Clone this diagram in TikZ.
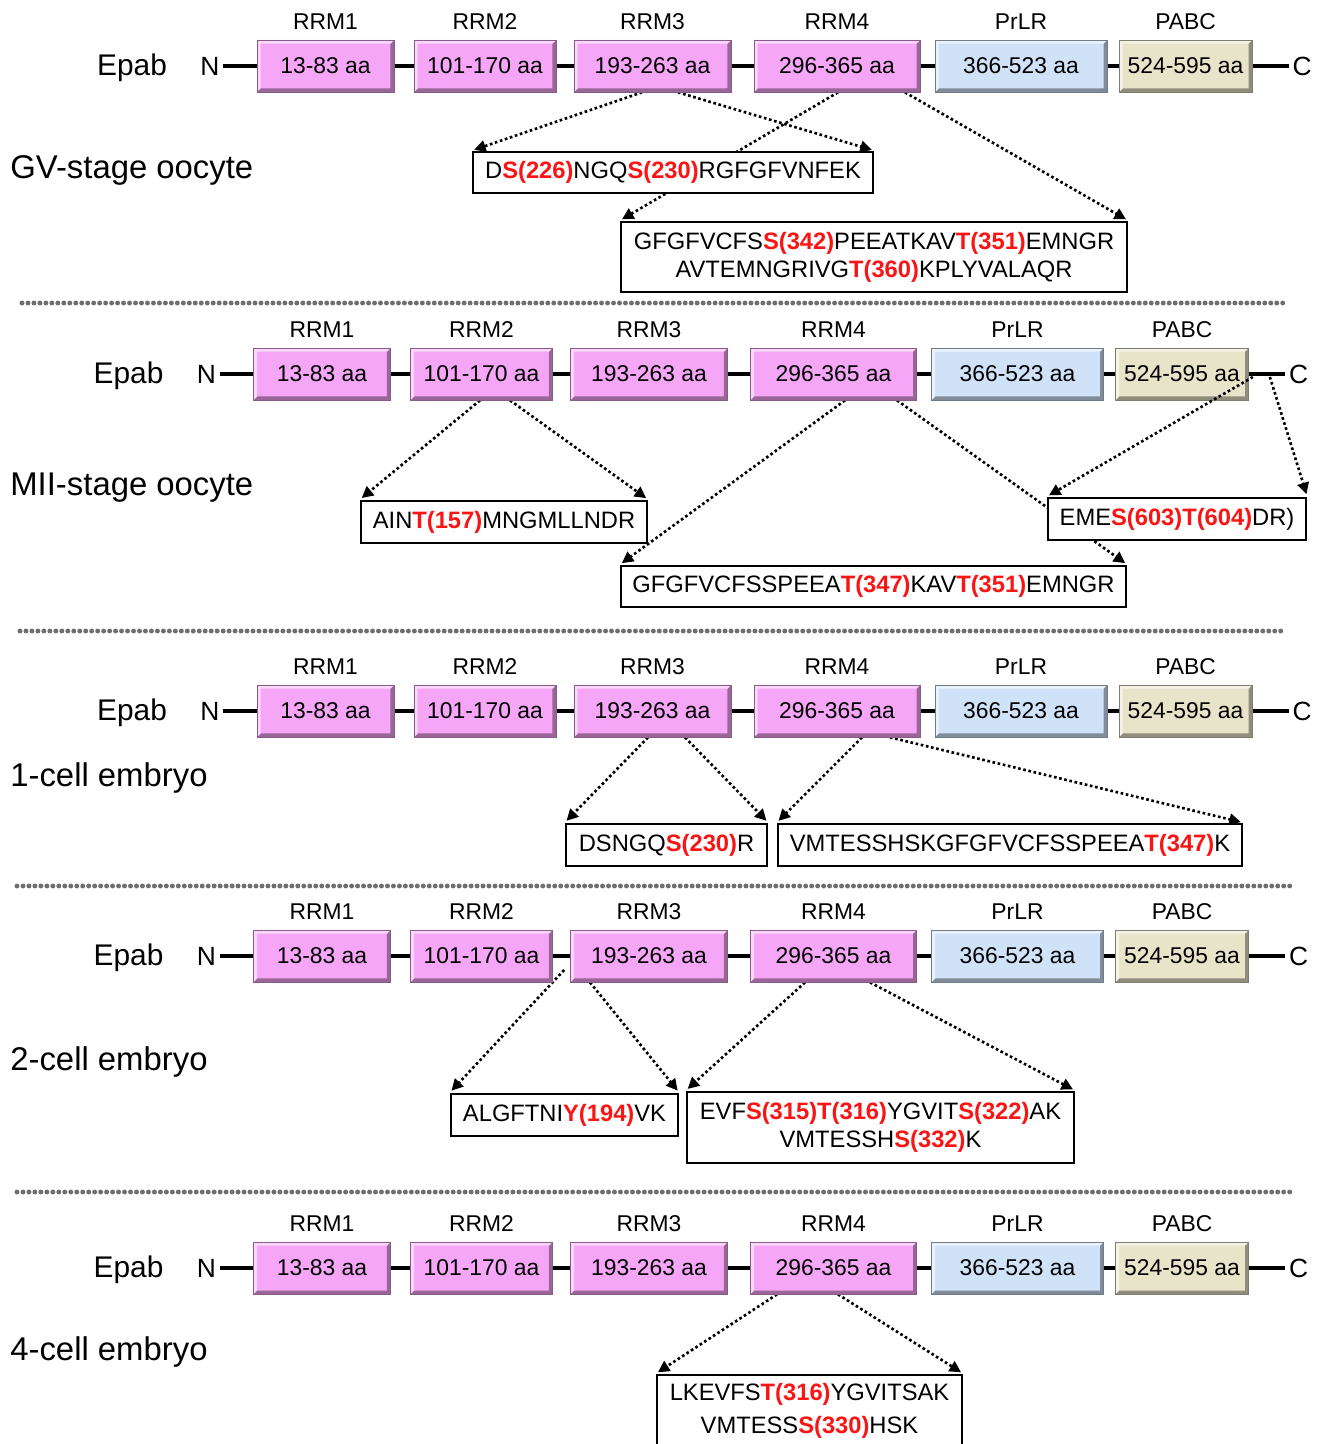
\documentclass[tikz,border=0pt]{standalone}
\usepackage{fontspec}
\setmainfont{Liberation Sans}
\usepackage{xcolor}
\usepackage{tikz}
\usetikzlibrary{arrows.meta,backgrounds}

\definecolor{rrmpink}{RGB}{246,166,246}
\definecolor{prlrblue}{RGB}{208,226,248}
\definecolor{pabctan}{RGB}{232,228,202}
\definecolor{phosred}{RGB}{250,20,20}
\definecolor{sepgray}{RGB}{110,110,110}

\newcommand{\domfont}{\fontsize{13}{15}\selectfont}
\newcommand{\epabfont}{\fontsize{17}{20}\selectfont}
\newcommand{\termfont}{\fontsize{15}{18}\selectfont}
\newcommand{\stagefont}{\fontsize{18.7}{22}\selectfont}
\newcommand{\pepfont}{\fontsize{13.5}{16}\selectfont}
\newcommand{\phos}[1]{\textcolor{phosred}{\textbf{#1}}}

\tikzset{
  domainbox/.style={draw=#1!55!black, line width=0.4pt, fill=#1,
    minimum height=1.04cm, inner sep=0pt, font=\domfont,
    path picture={
      \coordinate (o1) at (path picture bounding box.south west);
      \coordinate (o3) at (path picture bounding box.north east);
      \coordinate (i1) at ([shift={(2pt,2pt)}]o1);
      \coordinate (i3) at ([shift={(-2pt,-2pt)}]o3);
      \fill[#1!62!black] (o1) -- (o1 -| o3) -- (o3) -- (i3) -- (i1 -| i3) -- (i1) -- cycle;
      \fill[#1!45!white] (o1) -- (o1 |- o3) -- (o3) -- (i3) -- (i3 -| i1) -- (i1) -- cycle;
    }},
  domlabel/.style={anchor=south, inner sep=0pt, font=\domfont},
  backbone/.style={line width=2.6pt},
  peptide/.style={draw, line width=1.5pt, fill=white, font=\pepfont, align=center, inner sep=0pt},
  stagelabel/.style={anchor=west, inner sep=0pt, font=\stagefont},
  dotarrow/.style={line width=1.5pt, dash pattern=on 1.5pt off 1.5pt,
    -{Triangle[length=2.3mm,width=2.3mm]}, shorten >=1.5pt},
  sepline/.style={sepgray, line width=2.8pt, line cap=round, dash pattern=on 0pt off 3.4pt}
}

% one Epab domain row: #1 name, #2 y of the backbone, #3 x shift
\newcommand{\epabrow}[3]{%
  \begin{scope}[shift={(#3,#2)}]
    \node[font=\epabfont] (#1-epab) at (132,2) {Epab};
    \node[font=\termfont, inner sep=2pt] (#1-n) at (210,0) {N};
    \node[font=\termfont, inner sep=2pt] (#1-c) at (1302,0) {C};
    \draw[backbone] (#1-n) -- (#1-c);
    \node[domainbox=rrmpink, minimum width=2.74cm] (#1-rrm1) at (325.5,0) {13-83 aa};
    \node[domainbox=rrmpink, minimum width=2.84cm] (#1-rrm2) at (485,0) {101-170 aa};
    \node[domainbox=rrmpink, minimum width=3.14cm] (#1-rrm3) at (652.5,0) {193-263 aa};
    \node[domainbox=rrmpink, minimum width=3.32cm] (#1-rrm4) at (837,0) {296-365 aa};
    \node[domainbox=prlrblue, minimum width=3.44cm] (#1-prlr) at (1021,0) {366-523 aa};
    \node[domainbox=pabctan, minimum width=2.66cm] (#1-pabc) at (1185.5,0) {524-595 aa};
    \foreach \d/\t in {rrm1/RRM1, rrm2/RRM2, rrm3/RRM3, rrm4/RRM4, prlr/PrLR, pabc/PABC}
      \node[domlabel] (#1-\d-lab) at ([yshift=2mm]#1-\d.north) {\t};
  \end{scope}
}

\begin{document}
\begin{tikzpicture}[x=0.2mm, y=-0.2mm]

    \useasboundingbox (0,0) rectangle (1323,1444);

    % Domain rows
    \epabrow{gv}{66}{0}
    \epabrow{mii}{374}{-3.5}
    \epabrow{c1}{711}{0}
    \epabrow{c2}{956}{-3.5}
    \epabrow{c4}{1268}{-3.5}

    % Stage labels
    \node[stagelabel] (gv-stage) at (10,170) {GV-stage oocyte};
    \node[stagelabel] (mii-stage) at (10,488) {MII-stage oocyte};
    \node[stagelabel] (c1-stage) at (10,778) {1-cell embryo};
    \node[stagelabel] (c2-stage) at (10,1062) {2-cell embryo};
    \node[stagelabel] (c4-stage) at (10,1352) {4-cell embryo};

    % Separators
    \draw[sepline] (22,303) -- (1287,303);
    \draw[sepline] (20,631) -- (1283,631);
    \draw[sepline] (17,886) -- (1293,886);
    \draw[sepline] (17,1192) -- (1295,1192);

    % Phosphopeptides
    \node[peptide, minimum width=8cm, minimum height=0.82cm] (gv-pepa) at (673,172.5)
        {D\phos{S(226)}NGQ\phos{S(230)}RGFGFVNFEK};
    \node[peptide, minimum width=10.12cm, minimum height=1.4cm] (gv-pepb) at (874,257)
        {GFGFVCFS\phos{S(342)}PEEATKAV\phos{T(351)}EMNGR\\AVTEMNGRIVG\phos{T(360)}KPLYVALAQR};
    \node[peptide, minimum width=5.72cm, minimum height=0.84cm] (mii-aint) at (504,522)
        {AIN\phos{T(157)}MNGMLLNDR};
    \node[peptide, minimum width=5.16cm, minimum height=0.84cm] (mii-emes) at (1177,519)
        {EME\phos{S(603)T(604)}DR)};
    \node[peptide, minimum width=10.1cm, minimum height=0.82cm] (mii-gfgf) at (873.5,586.5)
        {GFGFVCFSSPEEA\phos{T(347)}KAV\phos{T(351)}EMNGR};
    \node[peptide, minimum width=4.02cm, minimum height=0.84cm] (c1-dsng) at (666.5,845)
        {DSNGQ\phos{S(230)}R};
    \node[peptide, minimum width=9.28cm, minimum height=0.84cm] (c1-vmte) at (1010,845)
        {VMTESSHSKGFGFVCFSSPEEA\phos{T(347)}K};
    \node[peptide, minimum width=4.54cm, minimum height=0.84cm] (c2-algf) at (564.5,1115)
        {ALGFTNI\phos{Y(194)}VK};
    \node[peptide, minimum width=7.74cm, minimum height=1.42cm] (c2-evfs) at (880.5,1127.5)
        {EVF\phos{S(315)T(316)}YGVIT\phos{S(322)}AK\\VMTESSH\phos{S(332)}K};
    \node[peptide, minimum width=6.1cm, minimum height=1.44cm] (c4-lkev) at (809.5,1411)
        {LKEVFS\phos{T(316)}YGVITSAK\\[3pt]VMTESS\phos{S(330)}HSK};

    % Arrows from the C-terminal tail, drawn over the PABC box
    \draw[dotarrow] ([xshift=0.08cm,yshift=-0.06cm]mii-pabc.east) -- (mii-emes.north west);
    \draw[dotarrow] ([xshift=0.42cm,yshift=-0.06cm]mii-pabc.east) -- (mii-emes.north east);

    % Dotted arrows from domains to peptides (behind the boxes)
    \begin{pgfonlayer}{background}
        \fill[white] (0,0) rectangle (1323,1444);
        \draw[dotarrow] ([xshift=-0.21cm]gv-rrm3.south) -- (gv-pepa.north west);
        \draw[dotarrow] ([xshift=0.51cm]gv-rrm3.south) -- (gv-pepa.north east);
        \draw[dotarrow] ([xshift=0.02cm]gv-rrm4.south) -- (gv-pepb.north west);
        \draw[dotarrow] ([xshift=1.36cm]gv-rrm4.south) -- (gv-pepb.north east);

        \draw[dotarrow] ([xshift=-0.03cm]mii-rrm2.south) -- (mii-aint.north west);
        \draw[dotarrow] ([xshift=0.57cm]mii-rrm2.south) -- (mii-aint.north east);
        \draw[dotarrow] ([xshift=0.23cm]mii-rrm4.south) -- (mii-gfgf.north west);
        \draw[dotarrow] ([xshift=1.27cm]mii-rrm4.south) -- (mii-gfgf.north east);

        \draw[dotarrow] ([xshift=-0.09cm]c1-rrm3.south) -- (c1-dsng.north west);
        \draw[dotarrow] ([xshift=0.65cm]c1-rrm3.south) -- (c1-dsng.north east);
        \draw[dotarrow] ([xshift=0.5cm]c1-rrm4.south) -- (c1-vmte.north west);
        \draw[dotarrow] ([xshift=1.06cm]c1-rrm4.south) -- (c1-vmte.north east);

        \draw[dotarrow] ([xshift=-0.12cm,yshift=-0.28cm]c2-rrm3.west) -- (c2-algf.north west);
        \draw[dotarrow] ([xshift=-1.18cm]c2-rrm3.south) -- (c2-algf.north east);
        \draw[dotarrow] ([xshift=-0.57cm]c2-rrm4.south) -- (c2-evfs.north west);
        \draw[dotarrow] ([xshift=0.73cm]c2-rrm4.south) -- (c2-evfs.north east);

        \draw[dotarrow] ([xshift=-1.13cm]c4-rrm4.south) -- (c4-lkev.north west);
        \draw[dotarrow] ([xshift=0.09cm]c4-rrm4.south) -- (c4-lkev.north east);
    \end{pgfonlayer}

\end{tikzpicture}
\end{document}
